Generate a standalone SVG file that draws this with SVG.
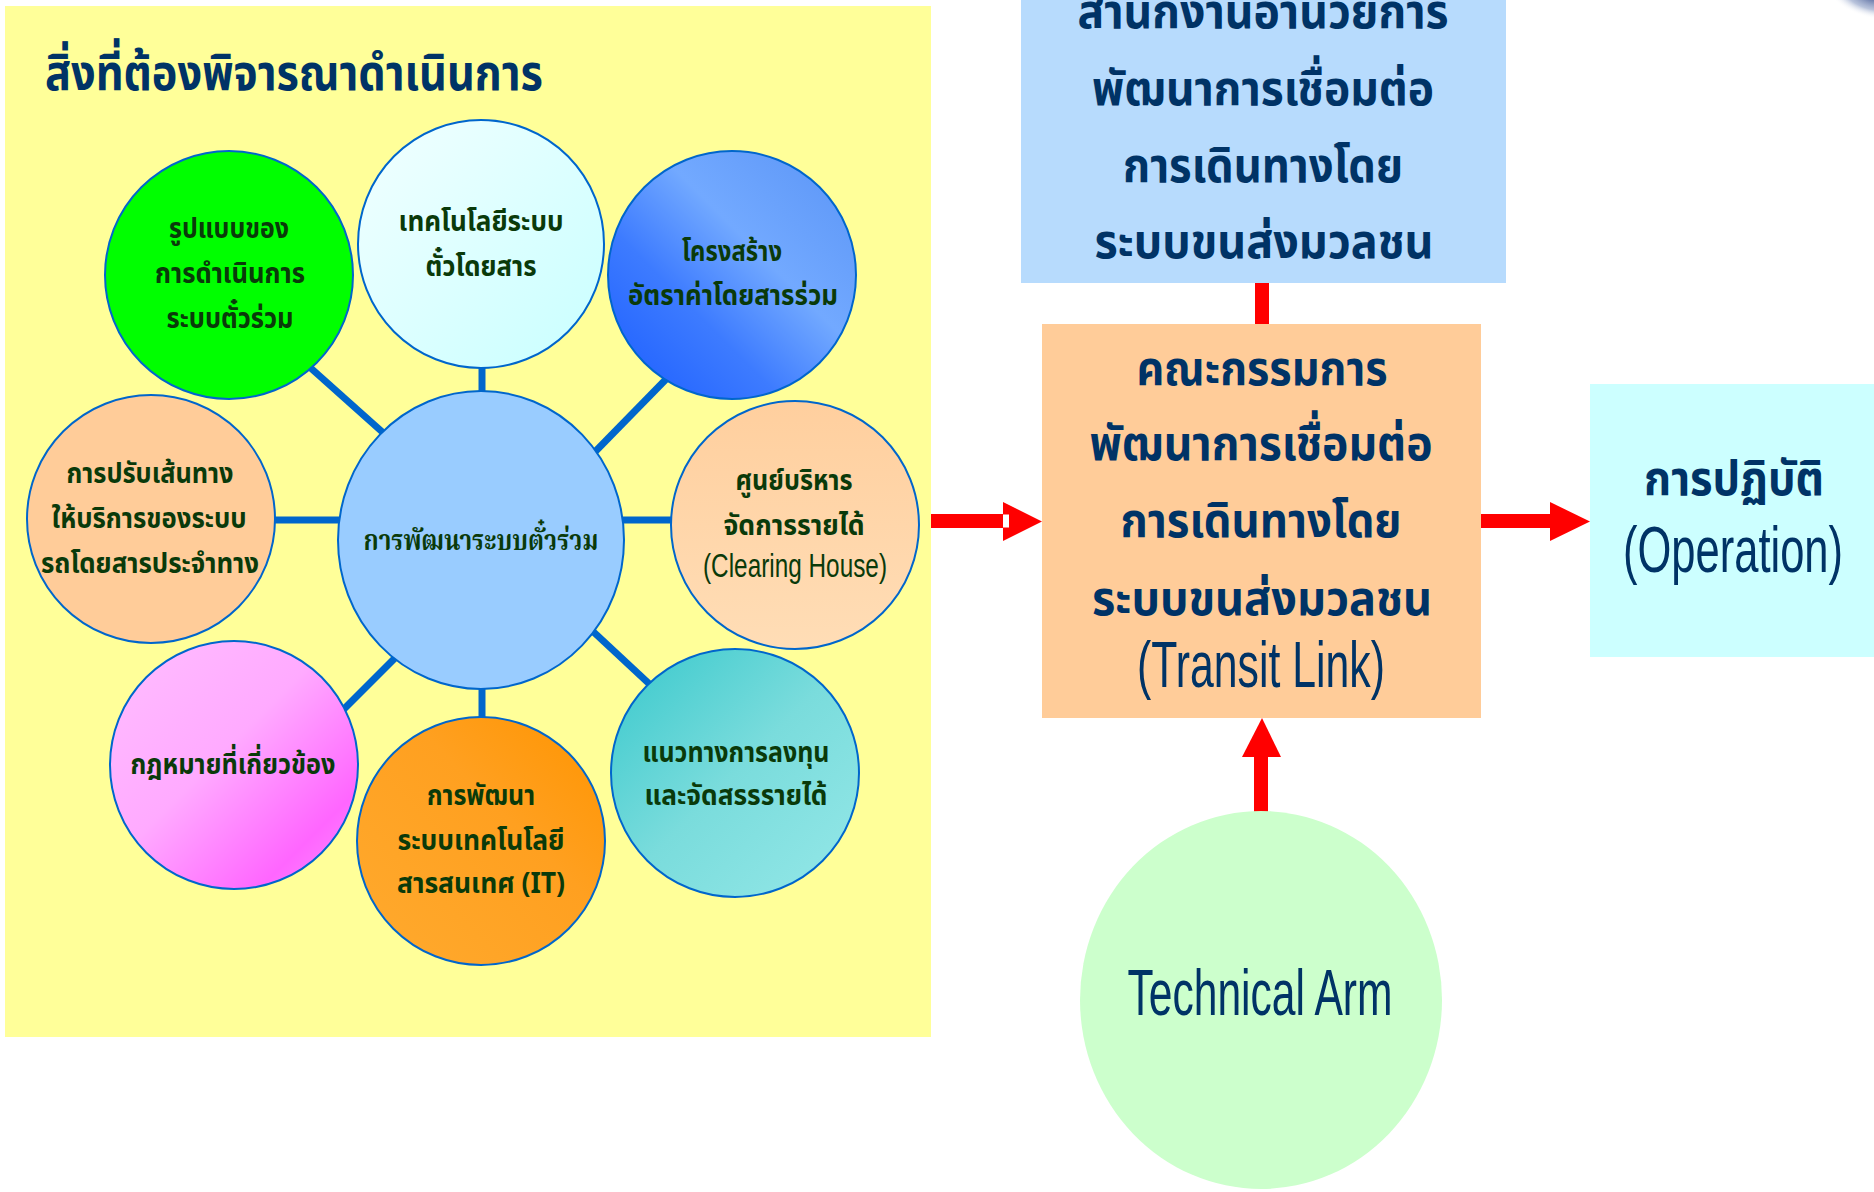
<svg xmlns="http://www.w3.org/2000/svg" width="1874" height="1192" viewBox="0 0 1874 1192">
<defs>
<linearGradient id="gTop" x1="0" y1="0" x2="1" y2="1"><stop offset="0" stop-color="#F2FFFF"/><stop offset="1" stop-color="#C8FFFF"/></linearGradient>
<linearGradient id="gBlue" x1="0" y1="1" x2="1" y2="0"><stop offset="0" stop-color="#1A5CFF"/><stop offset="0.35" stop-color="#3D7BFF"/><stop offset="0.6" stop-color="#72A9FF"/><stop offset="1" stop-color="#5A94F6"/></linearGradient>
<linearGradient id="gPeach" x1="0" y1="0" x2="0" y2="1"><stop offset="0" stop-color="#FFCF9E"/><stop offset="1" stop-color="#FFDDB6"/></linearGradient>
<linearGradient id="gPink" x1="0" y1="0" x2="1" y2="1"><stop offset="0" stop-color="#FFBEFF"/><stop offset="0.45" stop-color="#FFAAFF"/><stop offset="0.8" stop-color="#FF66FF"/><stop offset="1" stop-color="#FF8CFF"/></linearGradient>
<linearGradient id="gOrange" x1="0" y1="1" x2="1" y2="0"><stop offset="0" stop-color="#FFAA2E"/><stop offset="0.6" stop-color="#FFA020"/><stop offset="1" stop-color="#FF9400"/></linearGradient>
<linearGradient id="gTeal" x1="0" y1="0" x2="1" y2="1"><stop offset="0" stop-color="#38C8CC"/><stop offset="0.5" stop-color="#7ADCDC"/><stop offset="1" stop-color="#95E8E8"/></linearGradient>
<radialGradient id="gCorner" cx="0.5" cy="0.5" r="0.5"><stop offset="0" stop-color="#4A5E96"/><stop offset="0.6" stop-color="#8A9CC4" stop-opacity="0.6"/><stop offset="1" stop-color="#FFFFFF" stop-opacity="0"/></radialGradient>
<style>
.sat{stroke:#0066CC;stroke-width:2}
.spoke{stroke:#0066CC;stroke-width:7;fill:none}
.th{font-family:"Noto Sans Thai","Loma","Garuda","Sarabun","Noto Sans","DejaVu Sans",sans-serif;font-weight:bold;text-anchor:middle}
.st{fill:#0A3A0A;font-size:29px}
.bx{fill:#003366;font-size:48px}
.lat{font-family:"Liberation Sans Narrow","Liberation Sans",Arial,sans-serif;font-weight:normal;text-anchor:middle}
.red{fill:#FF0000}
</style>
</defs>
<rect width="1874" height="1192" fill="#FFFFFF"/>
<ellipse cx="1872" cy="-4" rx="46" ry="22" fill="url(#gCorner)" transform="rotate(15 1872 -4)"/>
<g id="panel">
<rect x="5" y="6" width="926" height="1031" fill="#FFFF99"/>
<text class="th" x="45" y="90" style="text-anchor:start;fill:#003366;font-size:50px" textLength="498" lengthAdjust="spacingAndGlyphs">สิ่งที่ต้องพิจารณาดำเนินการ</text>
</g>
<g id="connectors">
<line class="spoke" x1="295" y1="354" x2="398" y2="446"/>
<line class="spoke" x1="482" y1="360" x2="482" y2="400"/>
<line class="spoke" x1="677" y1="368" x2="587" y2="460"/>
<line class="spoke" x1="265" y1="520" x2="350" y2="520"/>
<line class="spoke" x1="612" y1="520" x2="682" y2="520"/>
<line class="spoke" x1="403" y1="650" x2="335" y2="718"/>
<line class="spoke" x1="482" y1="680" x2="482" y2="725"/>
<line class="spoke" x1="585" y1="624" x2="658" y2="692"/>
<rect class="red" x="1255" y="281" width="14" height="44"/>
<rect class="red" x="931" y="514" width="72" height="14"/>
<polygon class="red" points="1003,502 1042,521.5 1003,541"/>
<rect x="1003" y="514.5" width="6" height="13" fill="#FFFFFF"/>
<rect class="red" x="1480" y="514" width="71" height="14"/>
<polygon class="red" points="1550,502 1590,521.5 1550,541"/>
<rect class="red" x="1254" y="755" width="14" height="57"/>
<polygon class="red" points="1242,757 1262,718 1281,757"/>
</g>
<g id="n-center">
<ellipse class="sat" cx="481" cy="540" rx="143" ry="149" fill="#99CCFF"/>
<text class="th st" x="481" y="550" font-size="31" textLength="235" lengthAdjust="spacingAndGlyphs" style="font-family:'Noto Serif Thai','Norasi','Noto Sans Thai Looped','Noto Sans Thai','Loma',serif">การพัฒนาระบบตั๋วร่วม</text>
</g>
<g id="n-green">
<ellipse class="sat" cx="229" cy="275" rx="124" ry="124" fill="#00FF00"/>
<text class="th st" x="229" y="238" textLength="120" lengthAdjust="spacingAndGlyphs">รูปแบบของ</text>
<text class="th st" x="230" y="283" textLength="150" lengthAdjust="spacingAndGlyphs">การดำเนินการ</text>
<text class="th st" x="230" y="328" textLength="127" lengthAdjust="spacingAndGlyphs">ระบบตั๋วร่วม</text>
</g>
<g id="n-top">
<ellipse class="sat" cx="481" cy="244" rx="123" ry="124" fill="url(#gTop)"/>
<text class="th st" x="481" y="231" textLength="165" lengthAdjust="spacingAndGlyphs">เทคโนโลยีระบบ</text>
<text class="th st" x="481" y="276" textLength="111" lengthAdjust="spacingAndGlyphs">ตั๋วโดยสาร</text>
</g>
<g id="n-blue">
<ellipse class="sat" cx="732" cy="275" rx="124" ry="124" fill="url(#gBlue)"/>
<text class="th st" x="732" y="261" textLength="100" lengthAdjust="spacingAndGlyphs">โครงสร้าง</text>
<text class="th st" x="733" y="305" textLength="210" lengthAdjust="spacingAndGlyphs">อัตราค่าโดยสารร่วม</text>
</g>
<g id="n-left">
<ellipse class="sat" cx="151" cy="519" rx="124" ry="124" fill="#FFCC99"/>
<text class="th st" x="150" y="483" textLength="167" lengthAdjust="spacingAndGlyphs">การปรับเส้นทาง</text>
<text class="th st" x="149" y="528" textLength="195" lengthAdjust="spacingAndGlyphs">ให้บริการของระบบ</text>
<text class="th st" x="150" y="573" textLength="218" lengthAdjust="spacingAndGlyphs">รถโดยสารประจำทาง</text>
</g>
<g id="n-right">
<ellipse class="sat" cx="795" cy="525" rx="124" ry="124" fill="url(#gPeach)"/>
<text class="th st" x="794" y="490" textLength="117" lengthAdjust="spacingAndGlyphs">ศูนย์บริหาร</text>
<text class="th st" x="794" y="535" textLength="141" lengthAdjust="spacingAndGlyphs">จัดการรายได้</text>
<text class="lat" x="795" y="577" fill="#0A3A0A" font-size="33" textLength="184" lengthAdjust="spacingAndGlyphs">(Clearing House)</text>
</g>
<g id="n-pink">
<ellipse class="sat" cx="234" cy="765" rx="124" ry="124" fill="url(#gPink)"/>
<text class="th st" x="233" y="774" textLength="205" lengthAdjust="spacingAndGlyphs">กฎหมายที่เกี่ยวข้อง</text>
</g>
<g id="n-orange">
<ellipse class="sat" cx="481" cy="841" rx="124" ry="124" fill="url(#gOrange)"/>
<text class="th st" x="481" y="805" textLength="108" lengthAdjust="spacingAndGlyphs">การพัฒนา</text>
<text class="th st" x="481" y="850" textLength="167" lengthAdjust="spacingAndGlyphs">ระบบเทคโนโลยี</text>
<text class="th st" x="481" y="893" textLength="168" lengthAdjust="spacingAndGlyphs">สารสนเทศ (IT)</text>
</g>
<g id="n-teal">
<ellipse class="sat" cx="735" cy="773" rx="124" ry="124" fill="url(#gTeal)"/>
<text class="th st" x="736" y="762" textLength="187" lengthAdjust="spacingAndGlyphs">แนวทางการลงทุน</text>
<text class="th st" x="736" y="805" textLength="183" lengthAdjust="spacingAndGlyphs">และจัดสรรรายได้</text>
</g>
<g id="n-office">
<rect x="1021" y="0" width="485" height="283" fill="#B7DBFD"/>
<text class="th bx" x="1263" y="28" textLength="371" lengthAdjust="spacingAndGlyphs">สำนักงานอำนวยการ</text>
<text class="th bx" x="1263" y="105" textLength="342" lengthAdjust="spacingAndGlyphs">พัฒนาการเชื่อมต่อ</text>
<text class="th bx" x="1263" y="182" textLength="280" lengthAdjust="spacingAndGlyphs">การเดินทางโดย</text>
<text class="th bx" x="1264" y="258" textLength="339" lengthAdjust="spacingAndGlyphs">ระบบขนส่งมวลชน</text>
</g>
<g id="n-committee">
<rect x="1042" y="324" width="439" height="394" fill="#FFCC99"/>
<text class="th bx" x="1262" y="385" textLength="251" lengthAdjust="spacingAndGlyphs">คณะกรรมการ</text>
<text class="th bx" x="1261" y="460" textLength="343" lengthAdjust="spacingAndGlyphs">พัฒนาการเชื่อมต่อ</text>
<text class="th bx" x="1261" y="537" textLength="281" lengthAdjust="spacingAndGlyphs">การเดินทางโดย</text>
<text class="th bx" x="1262" y="615" textLength="340" lengthAdjust="spacingAndGlyphs">ระบบขนส่งมวลชน</text>
<text class="lat" x="1261" y="687" fill="#003366" font-size="64" textLength="248" lengthAdjust="spacingAndGlyphs">(Transit Link)</text>
</g>
<g id="n-operation">
<rect x="1590" y="384" width="284" height="273" fill="#CCFFFF"/>
<text class="th bx" x="1734" y="495" textLength="180" lengthAdjust="spacingAndGlyphs">การปฏิบัติ</text>
<text class="lat" x="1733" y="572" fill="#003366" font-size="64" textLength="220" lengthAdjust="spacingAndGlyphs">(Operation)</text>
</g>
<g id="n-technical">
<ellipse cx="1261" cy="1000" rx="181" ry="189" fill="#CCFFCC"/>
<text class="lat" x="1260" y="1015" fill="#003366" font-size="65" textLength="265" lengthAdjust="spacingAndGlyphs">Technical Arm</text>
</g>
</svg>
